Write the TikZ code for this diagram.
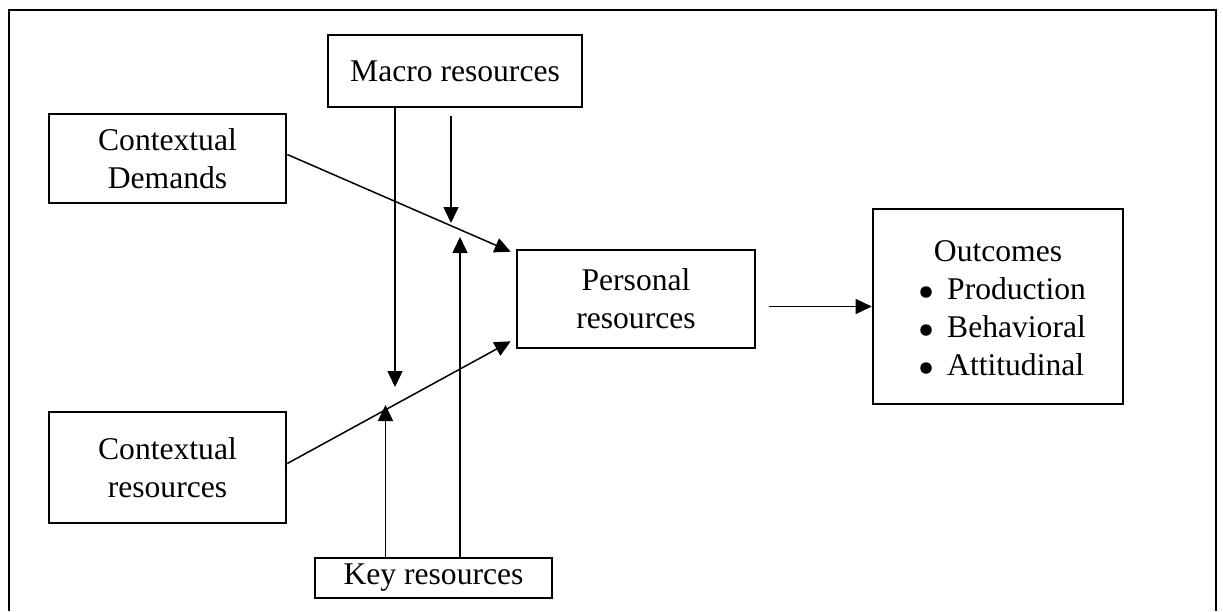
\documentclass[tikz,border=0pt]{standalone}
\usepackage{fontspec}
\setmainfont{Liberation Serif}
\usetikzlibrary{arrows.meta,calc}

\begin{document}
\begin{tikzpicture}[x=1pt,y=-1pt,
  box/.style={draw, line width=2.6pt, inner sep=0pt, align=center,
              font=\fontsize{31.6}{37.7}\selectfont},
  txt/.style={inner sep=0pt, font=\fontsize{31.6}{37.7}\selectfont},
  dot/.style={circle, fill, inner sep=0pt, minimum size=11.5pt},
  link/.style={line width=1.5pt},
  arr/.style={link, -{Triangle[length=16pt,width=15pt]}}]

  \useasboundingbox (0,0) rectangle (1223,611);

  % open frame around the model
  \draw[line width=2.6pt] (9,611) -- (9,10) -- (1216,10) -- (1216,611);

  % boxes
  \node[box, minimum width=254pt, minimum height=72pt]  (macro) at (455,71)    {Macro resources};
  \node[box, minimum width=237pt, minimum height=89pt]  (cd)    at (167.5,158.5) {Contextual\\Demands};
  \node[box, minimum width=238pt, minimum height=98pt]  (pr)    at (636,299)   {Personal\\resources};
  \node[box, minimum width=250pt, minimum height=195pt] (out)   at (998,306.5) {};
  \node[box, minimum width=237pt, minimum height=111pt] (cr)    at (167.5,467.5) {Contextual\\resources};
  \node[box, minimum width=237pt, minimum height=40pt]  (key)   at (433.5,578) {Key resources};

  % outcome list
  \node[txt, anchor=base] (outt) at (998,261) {Outcomes};
  \node[dot] (b1) at (926,292) {};
  \node[dot] (b2) at (926,330) {};
  \node[dot] (b3) at (926,368) {};
  \node[txt, anchor=base west] (o1) at (947,299) {Production};
  \node[txt, anchor=base west] (o2) at (947,337) {Behavioral};
  \node[txt, anchor=base west] (o3) at (947,375) {Attitudinal};

  % moderator arrow ends
  \coordinate (m1)  at (395,387);
  \coordinate (m2s) at (451,116);
  \coordinate (m2)  at (451,223);
  \coordinate (k1)  at (385.5,405);
  \coordinate (k2)  at (460,237);

  % connectors
  \draw[arr] ($(cd.east)+(0,-4)$) -- ($(pr.north west)+(-5,3)$);
  \draw[arr] ($(cr.east)+(0,-4)$) -- ($(pr.south west)+(-5,-8)$);
  \draw[arr] (m1 |- macro.south) -- (m1);
  \draw[arr] (m2s) -- (m2);
  \draw[arr] (k1 |- key.north) -- (k1);
  \draw[arr] (k2 |- key.north) -- (k2);
  \draw[arr] ($(pr.east |- out.west)+(13,0)$) -- (out.west);
\end{tikzpicture}
\end{document}
